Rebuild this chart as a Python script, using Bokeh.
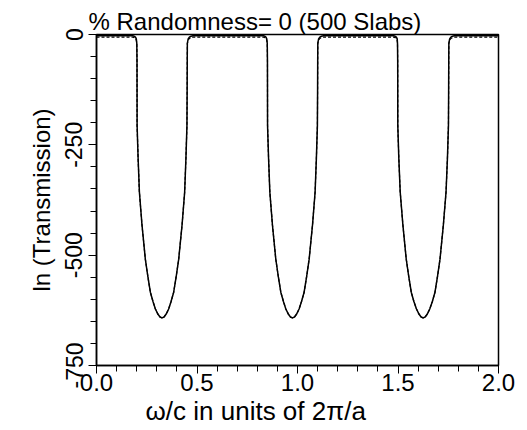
from bokeh.plotting import figure
from bokeh.embed import file_html
from bokeh.resources import INLINE
from bokeh.models import FixedTicker, Range1d, Title
from bokeh.models import ColumnDataSource

# omega/c in units of 2*pi/a
omega = [0.000, 0.100, 0.180, 0.188, 0.194, 0.198, 0.2005, 0.2015, 0.202, 0.207, 0.2134, 0.226,
         0.243, 0.256, 0.268, 0.281, 0.293, 0.306, 0.316, 0.326, 0.336, 0.346, 0.359, 0.371, 0.384, 0.396,
         0.409, 0.426, 0.4386, 0.445, 0.450, 0.451, 0.4515, 0.452, 0.456, 0.462, 0.470, 0.480,
         0.600, 0.700, 0.830, 0.838, 0.843, 0.847, 0.8495, 0.8505, 0.851, 0.856, 0.8624, 0.875,
         0.892, 0.905, 0.917, 0.930, 0.942, 0.955, 0.965, 0.975, 0.985, 0.995, 1.008, 1.020, 1.033, 1.045,
         1.058, 1.075, 1.0876, 1.094, 1.099, 1.100, 1.1005, 1.101, 1.105, 1.111, 1.119, 1.130,
         1.250, 1.350, 1.478, 1.486, 1.492, 1.496, 1.4975, 1.4985, 1.499, 1.504, 1.511, 1.524,
         1.541, 1.554, 1.566, 1.579, 1.592, 1.605, 1.615, 1.625, 1.635, 1.645, 1.658, 1.671, 1.684, 1.696,
         1.709, 1.726, 1.739, 1.746, 1.751, 1.752, 1.7525, 1.753, 1.757, 1.763, 1.771, 1.780,
         1.900, 2.000]
# ln(Transmission), solid curve
ln_t = [-3, -3, -3, -4, -6, -10, -20, -60, -206, -280, -357, -430,
        -509, -550, -584, -605, -622, -634, -640, -642, -640, -634, -622, -605, -584, -550,
        -509, -430, -357, -280, -206, -120, -60, -20, -10, -6, -4, -3,
        -3, -3, -3, -4, -6, -10, -20, -60, -206, -280, -357, -430,
        -509, -550, -584, -605, -622, -634, -640, -642, -640, -634, -622, -605, -584, -550,
        -509, -430, -357, -280, -206, -120, -60, -20, -10, -6, -4, -3,
        -3, -3, -3, -4, -6, -10, -20, -60, -206, -280, -357, -430,
        -509, -550, -584, -605, -622, -634, -640, -642, -640, -634, -622, -605, -584, -550,
        -509, -430, -357, -280, -206, -120, -60, -20, -10, -6, -4, -3,
        -3, -3]
# dashed companion curve (differs only in the pass bands)
ln_t_dashed = [v - 3 if v > -15 else v for v in ln_t]

x_ticks = [0.0, 0.5, 1.0, 1.5, 2.0]
x_tick_labels = {0.0: "0.0", 0.5: "0.5", 1.0: "1.0", 1.5: "1.5", 2.0: "2.0"}
y_ticks = [0, -250, -500, -750]
y_tick_labels = {0: "0", -250: "-250", -500: "-500", -750: "-750"}

FONT = "Liberation Sans"

p = figure(width=527, height=430, output_backend="svg", toolbar_location=None,
           x_range=Range1d(0, 2), y_range=Range1d(-750, 0),
           min_border_left=96, min_border_right=29, min_border_top=34, min_border_bottom=65)
p.title.text = "% Randomness= 0  (500 Slabs)"
p.title.text_font = FONT
p.title.text_font_size = "24px"
p.title.text_font_style = "normal"
p.title.text_color = "black"
p.title.align = "left"
p.title.offset = -8
p.title.standoff = 0

p.grid.visible = False
p.outline_line_color = "black"
p.outline_line_width = 1.5
p.background_fill_color = "white"
p.border_fill_color = "white"

src = ColumnDataSource(dict(x=omega, y=ln_t, yd=ln_t_dashed))
p.line("x", "yd", source=src, line_color="black", line_width=1.2, line_dash="3 2")
p.line("x", "y", source=src, line_color="black", line_width=1.5)

for ax in (p.xaxis[0], p.yaxis[0]):
    ax.axis_line_color = "black"
    ax.axis_line_width = 1.5
    ax.major_tick_line_color = "black"
    ax.minor_tick_line_color = "black"
    ax.major_tick_out = 8
    ax.major_tick_in = 0
    ax.minor_tick_out = 6
    ax.minor_tick_in = 0
    ax.major_label_text_font = FONT
    ax.major_label_text_color = "black"
    ax.axis_label_text_font = FONT
    ax.axis_label_text_font_style = "normal"
    ax.axis_label_text_color = "black"

p.xaxis.ticker = FixedTicker(ticks=x_ticks, minor_ticks=[i / 10 for i in range(21)])
p.xaxis.major_label_overrides = x_tick_labels
p.xaxis.major_label_standoff = 0
p.xaxis.major_label_text_font_size = "24px"

xlabel = Title(text="ω/c in units of 2π/a", align="left", offset=49, standoff=0,
               text_font=FONT, text_font_size="26px", text_font_style="normal",
               text_color="black")
p.add_layout(xlabel, "below")

p.yaxis.ticker = FixedTicker(ticks=y_ticks, minor_ticks=[-50 * i for i in range(16)])
p.yaxis.major_label_overrides = y_tick_labels
p.yaxis.major_label_orientation = "vertical"
p.yaxis.major_label_standoff = 6
p.yaxis.major_label_text_font_size = "23px"
p.yaxis.axis_label = "ln (Transmission)"
p.yaxis.axis_label_standoff = 8
p.yaxis.axis_label_text_font_size = "24px"

open("out.html", "w").write(file_html(p, INLINE))
